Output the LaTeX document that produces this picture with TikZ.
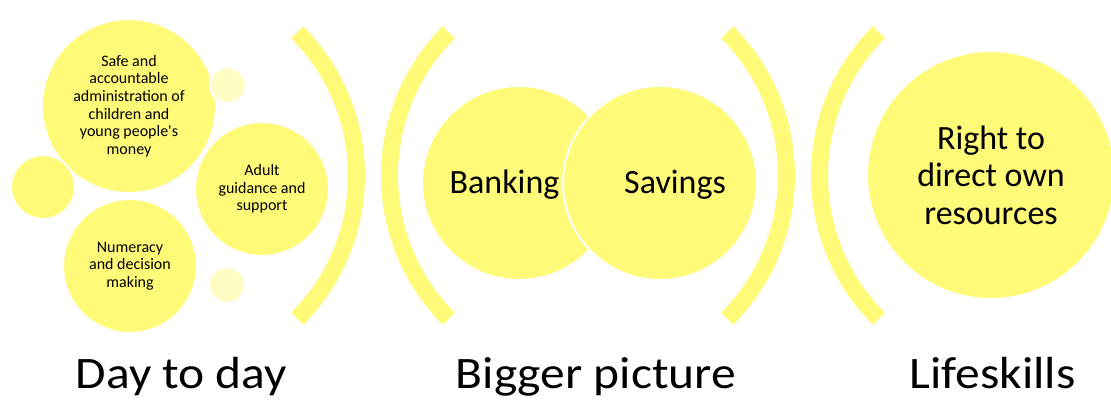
\documentclass[tikz,border=0pt]{standalone}
\usepackage{fontspec}
\setmainfont{Carlito}[Ligatures=TeXOff]
\newfontfamily\titlefont[FakeStretch=1.1]{Carlito}
\usepackage{xcolor}
\usepackage{tikz}
\usetikzlibrary{positioning}
\definecolor{sun}{HTML}{FFFA78}
\definecolor{pale}{HTML}{FFFCC4}
\definecolor{ink}{HTML}{000000}
\tikzset{
  disc/.style={circle,fill=sun,draw=white,line width=2pt,inner sep=0pt,align=center,text=ink},
  small/.style={font=\fontsize{16}{17.6}\selectfont},
  big/.style={font=\fontsize{34}{37.5}\selectfont,align=center,text=ink,inner sep=0pt},
  dot/.style={circle,fill=pale,draw=white,line width=2pt,inner sep=0pt,minimum size=36pt},
  paren/.style={fill=sun},
  title/.style={font=\titlefont\fontsize{45}{49}\selectfont,text=ink,inner sep=0pt,anchor=base}}

\begin{document}
\begin{tikzpicture}[x=1pt,y=1pt]
\useasboundingbox (0,0) rectangle (1111,400);

% day to day
\node[disc,small,minimum size=174pt] (safe) at (129,294)
  {Safe and\\ accountable\\ administration of\\ children and\\ young people's\\ money};
\node[disc,minimum size=64pt] (spot) at (43,213) {};
\node[disc,small,minimum size=134pt] (num) at (130,134) {Numeracy\\ and decision\\ making};
\node[disc,small,minimum size=134pt] (adult) at (262,211) {Adult\\ guidance and\\ support};
\node[dot] (dota) at (228,315) {};
\node[dot] (dotb) at (227,115) {};
\coordinate (ca) at (154,224.5);
\fill[paren] (ca) ++(-45:194) arc[start angle=-45,end angle=45,radius=194]
  -- ++(45:17) arc[start angle=45,end angle=-45,radius=211] -- cycle;
\node[title] (t1) at (181.5,12) {Day to day};

% bigger picture
\coordinate (cb) at (592,224.5);
\coordinate (cc) at (584,224.5);
\fill[paren] (cb) ++(135:194) arc[start angle=135,end angle=225,radius=194]
  -- ++(225:17) arc[start angle=225,end angle=135,radius=211] -- cycle;
\node[disc,minimum size=194pt] (bank) at (519,217) {};
\node[disc,minimum size=194pt] (save) at (660,217) {};
\node[big,anchor=base] (banktxt) at (504.5,207) {Banking};
\node[big,anchor=base] (savetxt) at (675,207) {Savings};
\fill[paren] (cc) ++(-45:194) arc[start angle=-45,end angle=45,radius=194]
  -- ++(45:17) arc[start angle=45,end angle=-45,radius=211] -- cycle;
\node[title] (t2) at (596,12) {Bigger picture};

% lifeskills
\coordinate (cd) at (1022,224.5);
\fill[paren] (cd) ++(135:194) arc[start angle=135,end angle=225,radius=194]
  -- ++(225:17) arc[start angle=225,end angle=135,radius=211] -- cycle;
\node[disc,minimum size=248pt,font=\fontsize{34}{37.5}\selectfont] (right) at (991,225)
  {Right to\\ direct own\\ resources};
\node[title] (t3) at (992.5,12) {Lifeskills};
\end{tikzpicture}
\end{document}
